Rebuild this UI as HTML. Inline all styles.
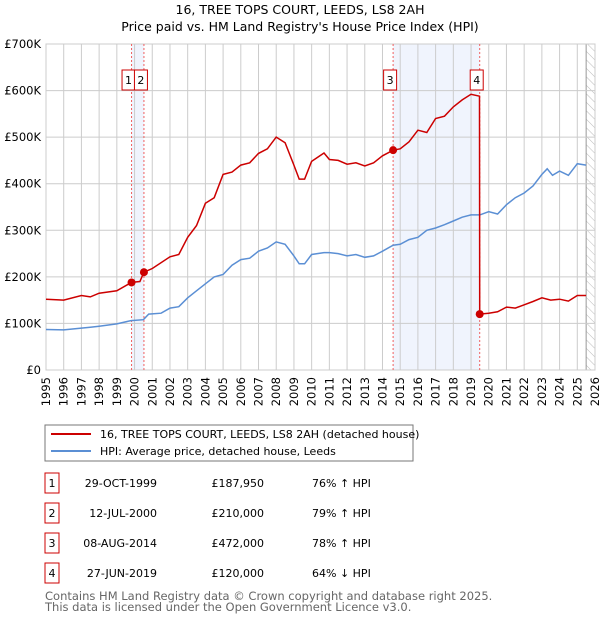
<!DOCTYPE html>
<html><head><meta charset="utf-8"><style>
body{margin:0;background:#fff;width:600px;height:620px;overflow:hidden;font-family:"DejaVu Sans","Liberation Sans",sans-serif;}
svg text{font-family:"DejaVu Sans","Liberation Sans",sans-serif;}
</style></head><body>
<svg id="chart" width="600" height="620" xmlns="http://www.w3.org/2000/svg">
<text x="300" y="14" text-anchor="middle" font-size="12.5">16, TREE TOPS COURT, LEEDS, LS8 2AH</text>
<text x="300" y="31" text-anchor="middle" font-size="12.5">Price paid vs. HM Land Registry's House Price Index (HPI)</text>
<g id="plot"></g>
<g>
<rect x="45" y="425" width="368" height="36" fill="#fff" stroke="#777"/>
<line x1="51" y1="434" x2="91" y2="434" stroke="#cc0000" stroke-width="2"/>
<text x="100" y="438" font-size="11">16, TREE TOPS COURT, LEEDS, LS8 2AH (detached house)</text>
<line x1="51" y1="451" x2="91" y2="451" stroke="#5b8fd4" stroke-width="2"/>
<text x="100" y="455" font-size="11">HPI: Average price, detached house, Leeds</text>
</g>
<g id="table"></g>
<text x="45" y="600" font-size="11.5" fill="#666">Contains HM Land Registry data © Crown copyright and database right 2025.</text>
<text x="45" y="611" font-size="11.5" fill="#666">This data is licensed under the Open Government Licence v3.0.</text>
</svg>
<script>
const hpiYears=[1995,1996,1997,1997.5,1998,1999,1999.8,2000.5,2000.8,2001.5,2002,2002.5,2003,2003.5,2004,2004.5,2005,2005.5,2006,2006.5,2007,2007.5,2008,2008.5,2009,2009.3,2009.6,2010,2010.7,2011,2011.5,2012,2012.5,2013,2013.5,2014,2014.6,2015,2015.5,2016,2016.5,2017,2017.5,2018,2018.5,2019,2019.5,2020,2020.5,2021,2021.5,2022,2022.5,2023,2023.3,2023.6,2024,2024.5,2025,2025.5];
const hpiValues=[87,86,90,92,94,99,106,108,120,122,133,136,155,170,185,200,205,225,237,240,255,262,275,270,245,228,228,248,252,252,250,245,248,242,245,255,268,270,280,285,300,305,312,320,328,333,333,340,335,355,370,380,395,420,432,418,427,418,443,440];
const priceYears=[1995,1996,1997,1997.5,1998,1999,1999.83,2000.3,2000.53,2001,2002,2002.5,2003,2003.5,2004,2004.5,2005,2005.5,2006,2006.5,2007,2007.5,2008,2008.5,2009,2009.3,2009.6,2010,2010.7,2011,2011.5,2012,2012.5,2013,2013.5,2014,2014.6,2015,2015.5,2016,2016.5,2017,2017.5,2018,2018.5,2019,2019.48,2019.49,2020,2020.5,2021,2021.5,2022,2022.5,2023,2023.5,2024,2024.5,2025,2025.5];
const priceValues=[152,150,160,157,165,170,188,190,210,218,243,248,285,310,358,370,420,425,440,445,465,475,500,488,440,410,410,448,466,452,450,442,445,438,445,460,472,475,490,515,510,540,545,565,580,592,588,120,122,125,135,133,140,147,155,150,152,148,160,160];
const saleLabels=["1","2","3","4"];
const saleDates=[1999.83,2000.53,2014.6,2019.49];
const saleDateText=["29-OCT-1999","12-JUL-2000","08-AUG-2014","27-JUN-2019"];
const salePrices=[187950,210000,472000,120000];
const saleHpiText=["76% \u2191 HPI","79% \u2191 HPI","78% \u2191 HPI","64% \u2193 HPI"];
const yTicks=[0,100,200,300,400,500,600,700];
const yTickLabels=["£0","£100K","£200K","£300K","£400K","£500K","£600K","£700K"];
const xTicks=[1995,1996,1997,1998,1999,2000,2001,2002,2003,2004,2005,2006,2007,2008,2009,2010,2011,2012,2013,2014,2015,2016,2017,2018,2019,2020,2021,2022,2023,2024,2025,2026];

const NS="http://www.w3.org/2000/svg";
const X0=46,X1=595,Y0=370,Y1=44;
const x=v=>X0+(v-1995)*(X1-X0)/31;
const y=v=>Y0-(v/700)*(Y0-Y1);
const plot=document.getElementById('plot');
function mk(t,a,p){const e=document.createElementNS(NS,t);for(const k in a)e.setAttribute(k,a[k]);(p||plot).appendChild(e);return e;}
for(let i=0;i<4;i+=2){const r=mk('rect',{x:x(saleDates[i]),y:Y1,width:x(saleDates[i+1])-x(saleDates[i]),height:Y0-Y1,fill:'#f0f4fd'});

}
const defs=mk('defs',{});
const pat=mk('pattern',{id:'h',width:6,height:6,patternUnits:'userSpaceOnUse',patternTransform:'rotate(-45)'},defs);
mk('line',{x1:0,y1:0,x2:0,y2:6,stroke:'#bbb','stroke-width':1},pat);
const hr=mk('rect',{x:x(2025.5),y:Y1,width:X1-x(2025.5),height:Y0-Y1,fill:'url(#h)'});


mk('line',{x1:x(2025.5),y1:Y1,x2:x(2025.5),y2:Y0,stroke:'#999'});
yTicks.forEach((t,i)=>{const g=mk('line',{x1:X0,x2:X1,y1:y(t),y2:y(t),stroke:'#ccc'});


const l=mk('text',{x:X0-5,y:y(t)+4,'text-anchor':'end','font-size':11.5});l.textContent=yTickLabels[i];

});
xTicks.forEach(t=>{const g=mk('line',{x1:x(t),x2:x(t),y1:Y1,y2:Y0,stroke:'#ccc'});


const l=mk('text',{x:0,y:0,'font-size':11.5,'text-anchor':'end',transform:'translate('+(x(t)+4)+','+(Y0+7)+') rotate(-90)'});l.textContent=t;

});
mk('rect',{x:X0,y:Y1,width:X1-X0,height:Y0-Y1,fill:'none',stroke:'#ccc'});
saleDates.forEach(d=>{const l=mk('line',{x1:x(d),x2:x(d),y1:Y1,y2:Y0,stroke:'#f06060','stroke-dasharray':'2,2'});

});
const pts=(xs,vs)=>xs.map((v,i)=>x(v).toFixed(1)+','+y(vs[i]).toFixed(1)).join(' ');
const hl=mk('polyline',{points:pts(hpiYears,hpiValues),fill:'none',stroke:'#5b8fd4','stroke-width':1.5});


const pl=mk('polyline',{points:pts(priceYears,priceValues),fill:'none',stroke:'#cc0000','stroke-width':1.5});


saleDates.forEach((d,i)=>{const c=mk('circle',{cx:x(d),cy:y(salePrices[i]/1000),r:4,fill:'#cc0000'});


const bx=x(d)-3-6.5;
const b=mk('rect',{x:bx,y:70,width:13,height:20,fill:'#fff',stroke:'#cc0000'});


const t=mk('text',{x:bx+6.5,y:84,'text-anchor':'middle','font-size':11});t.textContent=saleLabels[i];

});
const tb=document.getElementById('table');
saleLabels.forEach((s,i)=>{const cy=483+i*30;
const b=mk('rect',{x:45,y:cy-10,width:14,height:20,fill:'#fff',stroke:'#cc0000'},tb);


const n=mk('text',{x:52,y:cy+4,'text-anchor':'middle','font-size':11},tb);n.textContent=s;
const d=mk('text',{x:157,y:cy+4,'text-anchor':'end','font-size':11},tb);d.textContent=saleDateText[i];


const p=mk('text',{x:264,y:cy+4,'text-anchor':'end','font-size':11},tb);p.textContent='£'+salePrices[i].toLocaleString('en-GB');


const h=mk('text',{x:312,y:cy+4,'font-size':11},tb);h.textContent=saleHpiText[i];

});
</script>
</body></html>
